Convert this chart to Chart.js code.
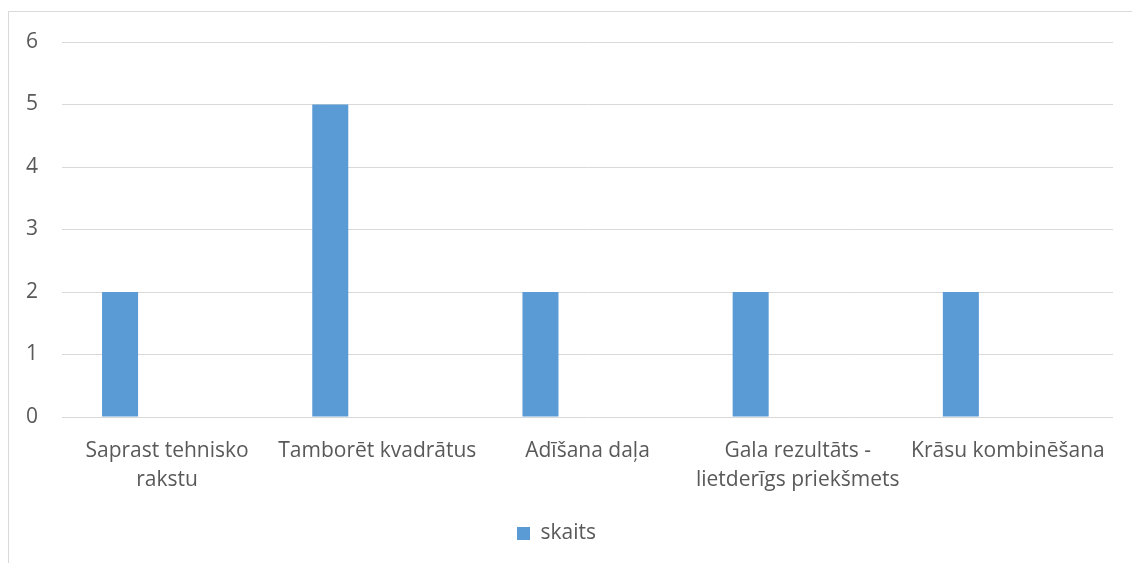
<!DOCTYPE html>
<html>
<head>
<meta charset="utf-8">
<script src="https://cdn.jsdelivr.net/npm/chart.js@4"></script>
<style>
  html, body { margin: 0; padding: 0; background: #fff; overflow: hidden; }
  #wrap { position: relative; width: 1132px; height: 563px; }
  #frame { position: absolute; left: 8px; top: 11px; width: 1200px; height: 600px; border: 1px solid #d9d9d9; box-sizing: border-box; }
  canvas { position: absolute; left: 0; top: 0; }
</style>
</head>
<body>
<div id="wrap">
  <div id="frame"></div>
  <canvas id="chart" width="1132" height="563"></canvas>
</div>
<script>
// category labels (wrapped like the original)
const categories = [
  ['Saprast tehnisko', 'rakstu'],
  'Tamborēt kvadrātus',
  'Adīšana daļa',
  ['Gala rezultāts -', 'lietderīgs priekšmets'],
  'Krāsu kombinēšana'
];
const skaits = [2, 5, 2, 2, 2];
// empty second series: keeps the bars to the left of each slot, as in the source
const emptySeries = [null, null, null, null, null];
const yTicks = [0, 1, 2, 3, 4, 5, 6];

const textColor = '#595959';
const gridColor = '#d9d9d9';
const barColor = '#5b9bd5';
const fontFamily = "'Open Sans', 'Noto Sans', sans-serif";

Chart.defaults.font.family = fontFamily;
Chart.defaults.color = textColor;

new Chart(document.getElementById('chart'), {
  type: 'bar',
  data: {
    labels: categories,
    datasets: [
      {
        label: 'skaits',
        data: skaits,
        backgroundColor: barColor,
        borderWidth: 0,
        categoryPercentage: 0.895,
        barPercentage: 0.383
      },
      {
        label: '',
        data: emptySeries,
        backgroundColor: 'rgba(0,0,0,0)',
        categoryPercentage: 0.895,
        barPercentage: 0.383
      }
    ]
  },
  options: {
    responsive: false,
    animation: false,
    layout: {
      padding: { top: 42, right: 19, bottom: 9, left: 0 }
    },
    scales: {
      x: {
        grid: { display: false, drawTicks: false },
        border: { display: false },
        ticks: {
          font: { size: 21, lineHeight: 1.39 },
          color: textColor,
          padding: 19,
          maxRotation: 0,
          autoSkip: false
        },
        afterFit: (scale) => { scale.height = 98; }
      },
      y: {
        min: 0,
        max: 6,
        afterBuildTicks: (scale) => { scale.ticks = yTicks.map(v => ({ value: v })); },
        grid: { color: gridColor, lineWidth: 1, drawTicks: false },
        border: { display: false },
        ticks: {
          font: { size: 21 },
          color: textColor,
          padding: 24
        },
        afterFit: (scale) => { scale.width = 62; }
      }
    },
    plugins: {
      legend: {
        position: 'bottom',
        labels: {
          filter: (item) => item.text !== '',
          boxWidth: 13,
          boxHeight: 13,
          padding: 8,
          font: { size: 21 },
          color: textColor
        }
      },
      tooltip: { enabled: false }
    }
  }
});
</script>
</body>
</html>
